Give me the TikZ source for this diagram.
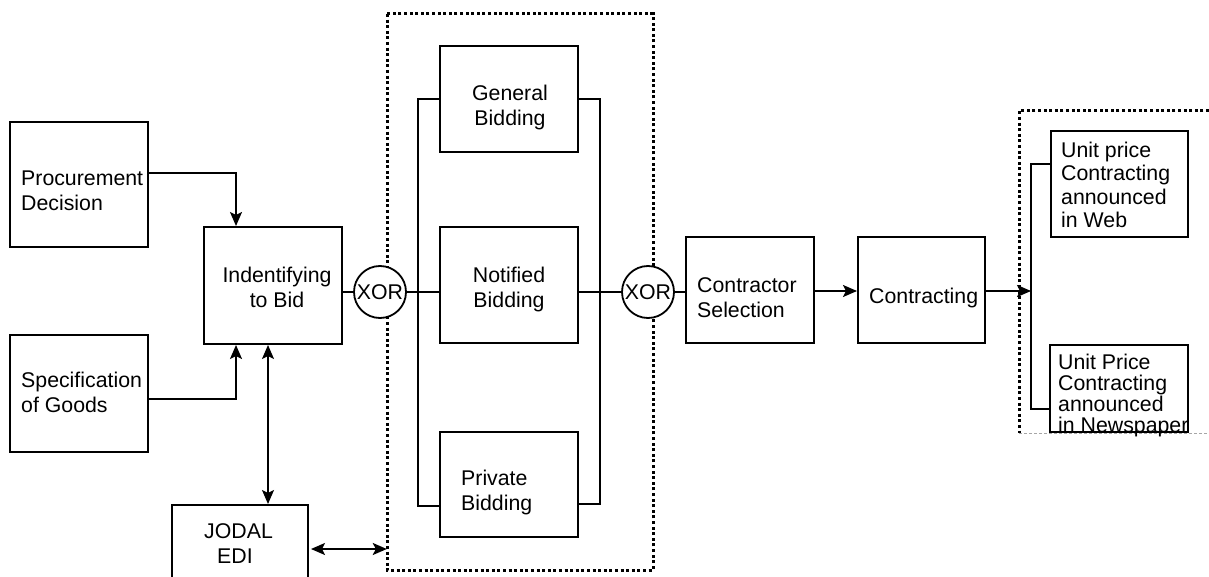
\documentclass[tikz,border=0pt]{standalone}
\usepackage{fontspec}
\setmainfont{Liberation Sans}
\usetikzlibrary{arrows.meta}

\begin{document}
\begin{tikzpicture}[x=1pt, y=-1pt,
  every node/.style={font=\fontsize{21.3pt}{25pt}\selectfont},
  box/.style={draw, line width=2pt, inner sep=0pt},
  wh/.style 2 args={minimum width=#1pt, minimum height=#2pt},
  txt/.style={inner sep=0pt, align=left, anchor=north west},
  ctxt/.style={inner sep=0pt, align=center, anchor=north},
  gate/.style={draw, circle, line width=1.8pt, fill=white, inner sep=0pt, minimum size=52pt},
  conn/.style={line width=1.9pt},
  thinconn/.style={line width=1.4pt},
  brk/.style={line width=1.6pt},
  toarrow/.style={-{Stealth[length=14pt, width=12pt, inset=3pt]}},
  botharrow/.style={{Stealth[length=14pt, width=12pt, inset=3pt]}-{Stealth[length=14pt, width=12pt, inset=3pt]}},
  dotline/.style={line width=3pt, dash pattern=on 3pt off 2.6pt},
]
\useasboundingbox (0,0) rectangle (1209,577);

% dotted frame around the bidding alternatives
\draw[dotline] (387,14) rectangle (653,570);
\node[inner sep=0pt, wh={266}{556}] (frame) at (520,292) {};

% dotted region holding the announcement boxes (open to the right)
\draw[dotline] (1209,111) -- (1019,111) -- (1019,433);
\draw[draw=black!35, line width=0.9pt, dash pattern=on 3pt off 2pt] (1019,433) -- (1209,433);

% process boxes
\node[box, wh={138}{125}] (proc)  at (79,184.5)  {};
\node[box, wh={138}{117}] (spec)  at (79,393.5)  {};
\node[box, wh={138}{117}] (idb)   at (273,285.5) {};
\node[box, wh={136}{88}]  (jodal) at (240,549)   {};
\node[box, wh={138}{106}] (gb)    at (509,99)    {};
\node[box, wh={138}{116}] (nb)    at (509,285)   {};
\node[box, wh={138}{105}] (pb)    at (509,484.5) {};
\node[box, wh={128}{106}] (cs)    at (750,290)   {};
\node[box, wh={127}{106}] (ct)    at (921.5,290) {};
\node[box, wh={137}{106}] (web)   at (1119.5,184) {};
\node[box, wh={138}{87}]  (news)  at (1119,388.5) {};

% box texts
\node[txt]  (proc-t)  at (21,171)  {Procurement\\Decision};
\node[txt]  (spec-t)  at (21,372)  {Specification\\of Goods};
\node[ctxt] (idb-t)   at (277,267) {Indentifying\\to Bid};
\node[txt]  (jodal-t) at (204,523) {JODAL\\\hspace*{13pt}EDI};
\node[ctxt] (gb-t)    at (510,85)  {General\\Bidding};
\node[ctxt] (nb-t)    at (509,267) {Notified\\Bidding};
\node[txt]  (pb-t)    at (461,470) {Private\\Bidding};
\node[txt]  (cs-t)    at (697,277) {Contractor\\Selection};
\node[txt]  (ct-t)    at (869,288) {Contracting};
\node[txt, font=\fontsize{21.3pt}{23.3pt}\selectfont] (web-t)  at (1061,142)
  {Unit price\\Contracting\\announced\\in Web};
\node[txt, font=\fontsize{21.3pt}{21pt}\selectfont] (news-t) at (1058,354)
  {Unit Price\\Contracting\\announced\\in Newspaper};

% bracket junctions
\coordinate (lb)  at (418,292);
\coordinate (rb)  at (600,292);
\coordinate (rbk) at (1031,291);

% inputs to the identification step
\draw[conn, toarrow] ([yshift=11.5pt]proc.east) -| ([xshift=-37pt]idb.north);
\draw[conn, toarrow] ([yshift=-5.5pt]spec.east) -| ([xshift=-37pt]idb.south);
\draw[thinconn, botharrow] ([xshift=-5pt]idb.south) -- ([xshift=-5pt]idb.south |- jodal.north);
\draw[conn, botharrow] ([xshift=2pt]jodal.east) -- (jodal.east -| frame.west);

% split into the three bidding kinds
\draw[brk] (gb.west) -| (lb) |- ([yshift=-21.5pt]pb.west);
\draw[brk] (gb.east) -| (rb) |- ([yshift=-19.5pt]pb.east);
\draw[conn] (lb -| nb.east) -- (rb);

% gates
\node[gate] (xor1) at (380,292) {XOR};
\node[gate] (xor2) at (648,292) {XOR};
\draw[conn] (idb.east |- xor1.west) -- (xor1.west);
\draw[conn] (xor1.east) -- (xor1.east -| nb.west);
\draw[conn] (rb) -- (xor2.west);
\draw[conn] (xor2.east) -- (xor2.east -| cs.west);

% selection, contracting and announcement
\draw[conn, toarrow] (cs.east |- rbk) -- (ct.west |- rbk);
\draw[conn, toarrow] (ct.east |- rbk) -- (rbk);
\draw[brk] ([yshift=20pt]web.west) -| (rbk) |- ([yshift=-20.5pt]news.west);
\end{tikzpicture}
\end{document}
